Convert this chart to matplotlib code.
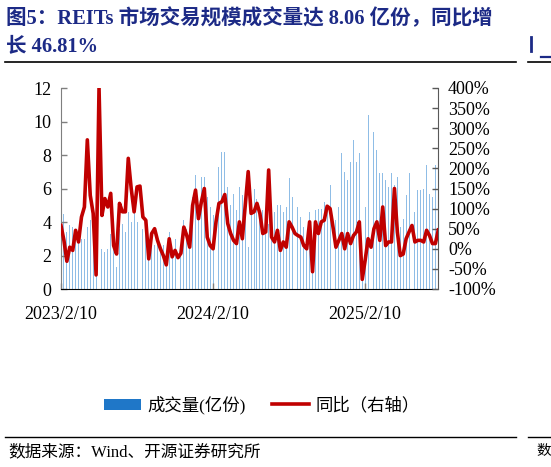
import matplotlib
matplotlib.use("Agg")
import matplotlib.pyplot as plt
from matplotlib.patches import Patch
from matplotlib.lines import Line2D
import numpy as np

plt.rcParams['font.family'] = ['Liberation Serif', 'Noto Sans CJK SC', 'DejaVu Sans']
plt.rcParams['axes.unicode_minus'] = False

# weekly trading volume (亿份)
volume = [4.0, 4.5, 3.4, 3.8, 3.7, 3.4, 3.3, 3.0, 3.0, 3.7,
          4.1, 4.0, 0.9, 2.8, 2.4, 2.2, 2.4, 3.3, 2.6, 1.3,
          3.6, 3.9, 3.4, 4.6, 4.0, 4.6, 4.0, 3.5, 3.6, 3.7,
          2.4, 2.6, 2.6, 2.9, 2.2, 2.6, 1.8, 3.4, 2.3, 3.0,
          2.6, 2.1, 4.1, 3.6, 3.2, 5.5, 6.8, 5.0, 6.7, 6.7,
          5.5, 4.9, 4.4, 4.2, 7.3, 8.2, 8.2, 6.1, 5.0, 5.7,
          4.7, 6.1, 5.6, 5.2, 2.5, 4.5, 6.0, 5.4, 4.7, 4.7,
          3.7, 3.9, 4.6, 4.6, 5.0, 5.0, 4.6, 4.9, 6.6, 5.5,
          5.0, 4.9, 4.3, 3.7, 2.6, 4.6, 1.0, 4.7, 4.8, 4.8,
          5.2, 5.0, 6.2, 6.3, 4.1, 4.9, 8.1, 7.0, 6.5, 7.6,
          8.9, 7.6, 8.1, 1.2, 4.9, 10.4, 8.9, 9.4, 8.3, 6.9,
          6.9, 6.5, 6.1, 6.9, 6.2, 6.7, 3.7, 4.2, 5.6, 6.9,
          5.4, 4.6, 5.9, 5.9, 6.0, 7.4, 5.7, 5.5, 7.4, 8.06]

# year-on-year change (%)
yoy = [58, 21, -31, 4, -4, 46, 17, 79, 104, 271,
       133, 88, -65, 400, 83, 125, 104, 138, 8, -13,
       113, 92, 92, 225, 150, 92, 154, 156, 79, 71,
       -25, 38, 50, 21, 0, -17, -40, 25, -20, -4,
       -22, -11, 54, 33, 4, 108, 146, 75, 117, 150,
       29, 8, 0, 67, 113, 117, 135, 63, 38, 21,
       13, 67, 25, 108, 192, 88, 92, 113, 88, 38,
       42, 196, 29, 17, 46, -4, 17, 4, 67, 54,
       38, 33, 29, 8, 0, 67, -57, 67, 38, 67,
       71, 106, 100, 54, 4, 21, 38, 0, 38, 13,
       33, 42, 67, -76, -28, 25, 4, 50, 67, 21,
       104, 8, 17, 17, 150, 42, -17, -13, 25, 42,
       58, 17, 21, 21, 17, 46, 33, 13, 13, 46.81]

tick_pos = [0, 52, 104]
tick_labels = ['2023/2/10', '2024/2/10', '2025/2/10']
left_ticks = [0, 2, 4, 6, 8, 10, 12]
right_ticks = [-100, -50, 0, 50, 100, 150, 200, 250, 300, 350, 400]

W, H = 551, 467
fig = plt.figure(figsize=(W / 100, H / 100), dpi=100)
ax = fig.add_axes([61 / W, 1 - 289 / H, (438.3 - 61) / W, (289 - 88) / H])

x = np.arange(len(volume))
ax.bar(x, volume, width=0.32, color='#8FBDE6', linewidth=0, zorder=1)
ax.set_xlim(0, len(volume) - 1)
ax.set_ylim(0, 12)
ax.set_yticks(left_ticks)
ax.set_yticklabels([str(v) for v in left_ticks])
ax.set_xticks(tick_pos)
ax.set_xticklabels(tick_labels)

ax2 = ax.twinx()
ax2.plot(x, yoy, color='#C00000', linewidth=2.6, zorder=3, solid_joinstyle='round')
ax2.set_ylim(-100, 400)
ax2.set_yticks(right_ticks)
ax2.set_yticklabels([f'{v}%' for v in right_ticks])
ax2.set_xlim(0, len(volume) - 1)

for a in (ax, ax2):
    a.set_facecolor('none')
    a.spines['top'].set_visible(False)
    a.tick_params(direction='in', length=4, width=1, labelsize=13, colors='#000000')
ax.spines['left'].set_color('#7f7f7f')
ax.spines['right'].set_visible(False)
ax.spines['bottom'].set_color('#000000')
ax2.spines['left'].set_visible(False)
ax2.spines['bottom'].set_visible(False)
ax2.spines['right'].set_color('#595959')
ax.tick_params(axis='y', colors='#7f7f7f', labelcolor='black', pad=7)
ax.tick_params(axis='x', colors='#7f7f7f', labelcolor='black', pad=12)
ax2.tick_params(axis='y', colors='#595959', labelcolor='black', pad=7)

title_color = '#1C2A86'
fig.text(6 / W, 1 - 19 / H, '图5：REITs 市场交易规模成交量达 8.06 亿份，同比增',
         fontsize=14.8, fontweight='bold', color=title_color, va='center', ha='left')
fig.text(6 / W, 1 - 47 / H, '长 46.81%',
         fontsize=14.8, fontweight='bold', color=title_color, va='center', ha='left')
fig.add_artist(Line2D([5 / W, 516 / W], [1 - 62 / H, 1 - 62 / H], color='black', linewidth=1.2))
fig.add_artist(Line2D([528 / W, 1.0], [1 - 62 / H, 1 - 62 / H], color='black', linewidth=1.2))
fig.add_artist(Line2D([5 / W, 516 / W], [1 - 437 / H, 1 - 437 / H], color='black', linewidth=1.0))
fig.add_artist(Line2D([528 / W, 1.0], [1 - 437 / H, 1 - 437 / H], color='black', linewidth=1.0))
# fragments of the neighbouring chart at the right edge
fig.add_artist(Line2D([531 / W, 531 / W], [1 - 37 / H, 1 - 51 / H], color=title_color, linewidth=2.0))
fig.add_artist(Line2D([541 / W, 1.0], [1 - 57 / H, 1 - 57 / H], color=title_color, linewidth=1.6))

fig.text(8 / W, 1 - 452 / H, '数据来源：Wind、开源证券研究所', fontsize=12, color='black',
         va='center', ha='left')
fig.text(536 / W, 1 - 452 / H, '数', fontsize=10.5, color='black', va='center', ha='left')

handles = [Patch(facecolor='#1F77C8', edgecolor='none'),
           Line2D([0], [0], color='#C00000', linewidth=2.6)]
fig.legend(handles, ['成交量(亿份)', '同比（右轴）'], loc='center',
           bbox_to_anchor=(262 / W, 1 - 405 / H), ncol=2, frameon=False,
           fontsize=12.5, handlelength=2.1, handleheight=0.6, columnspacing=1.5,
           handletextpad=0.4)

fig.savefig('out.png', dpi=100)
